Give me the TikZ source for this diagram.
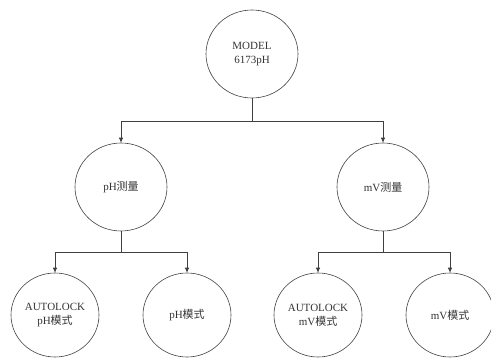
\documentclass[tikz,border=0pt]{standalone}
\usepackage{fontspec}
\setmainfont{Liberation Serif}
\newfontfamily\cjk{Noto Sans CJK SC}
\usetikzlibrary{shapes.geometric,arrows.meta}
\begin{document}
\begin{tikzpicture}[x=1pt,y=-1pt,
  bubble/.style={ellipse,draw=black!75,line width=0.6pt,inner sep=0pt,
    minimum width=92pt,minimum height=88pt,align=center,
    font=\fontsize{11}{14}\selectfont,text=black!80},
  small/.style={bubble,minimum width=88pt,minimum height=84pt},
  link/.style={draw=black!75,line width=0.6pt},
  arr/.style={link,-{Latex[length=5pt,width=4.5pt]}}]
\useasboundingbox (0,0) rectangle (491,359);
\node[bubble] (top) at (252,54) {MODEL\\6173pH};
\node[bubble] (ph) at (121,187) {pH{\cjk 测量}};
\node[bubble] (mv) at (383,187) {mV{\cjk 测量}};
\node[small] (a1) at (55,315) {AUTOLOCK\\pH{\cjk 模式}};
\node[small] (a2) at (187,315) {pH{\cjk 模式}};
\node[small] (a3) at (318,315) {AUTOLOCK\\mV{\cjk 模式}};
\node[small] (a4) at (450,315) {mV{\cjk 模式}};
\coordinate (b0) at (252,121);
\coordinate (b1) at (121,252);
\coordinate (b2) at (383,252);
\draw[link] (top.south) -- (b0);
\draw[arr] (b0) -| (ph.north);
\draw[arr] (b0) -| (mv.north);
\draw[link] (ph.south) -- (b1);
\draw[arr] (b1) -| (a1.north);
\draw[arr] (b1) -| (a2.north);
\draw[link] (mv.south) -- (b2);
\draw[arr] (b2) -| (a3.north);
\draw[arr] (b2) -| (a4.north);
\end{tikzpicture}
\end{document}
